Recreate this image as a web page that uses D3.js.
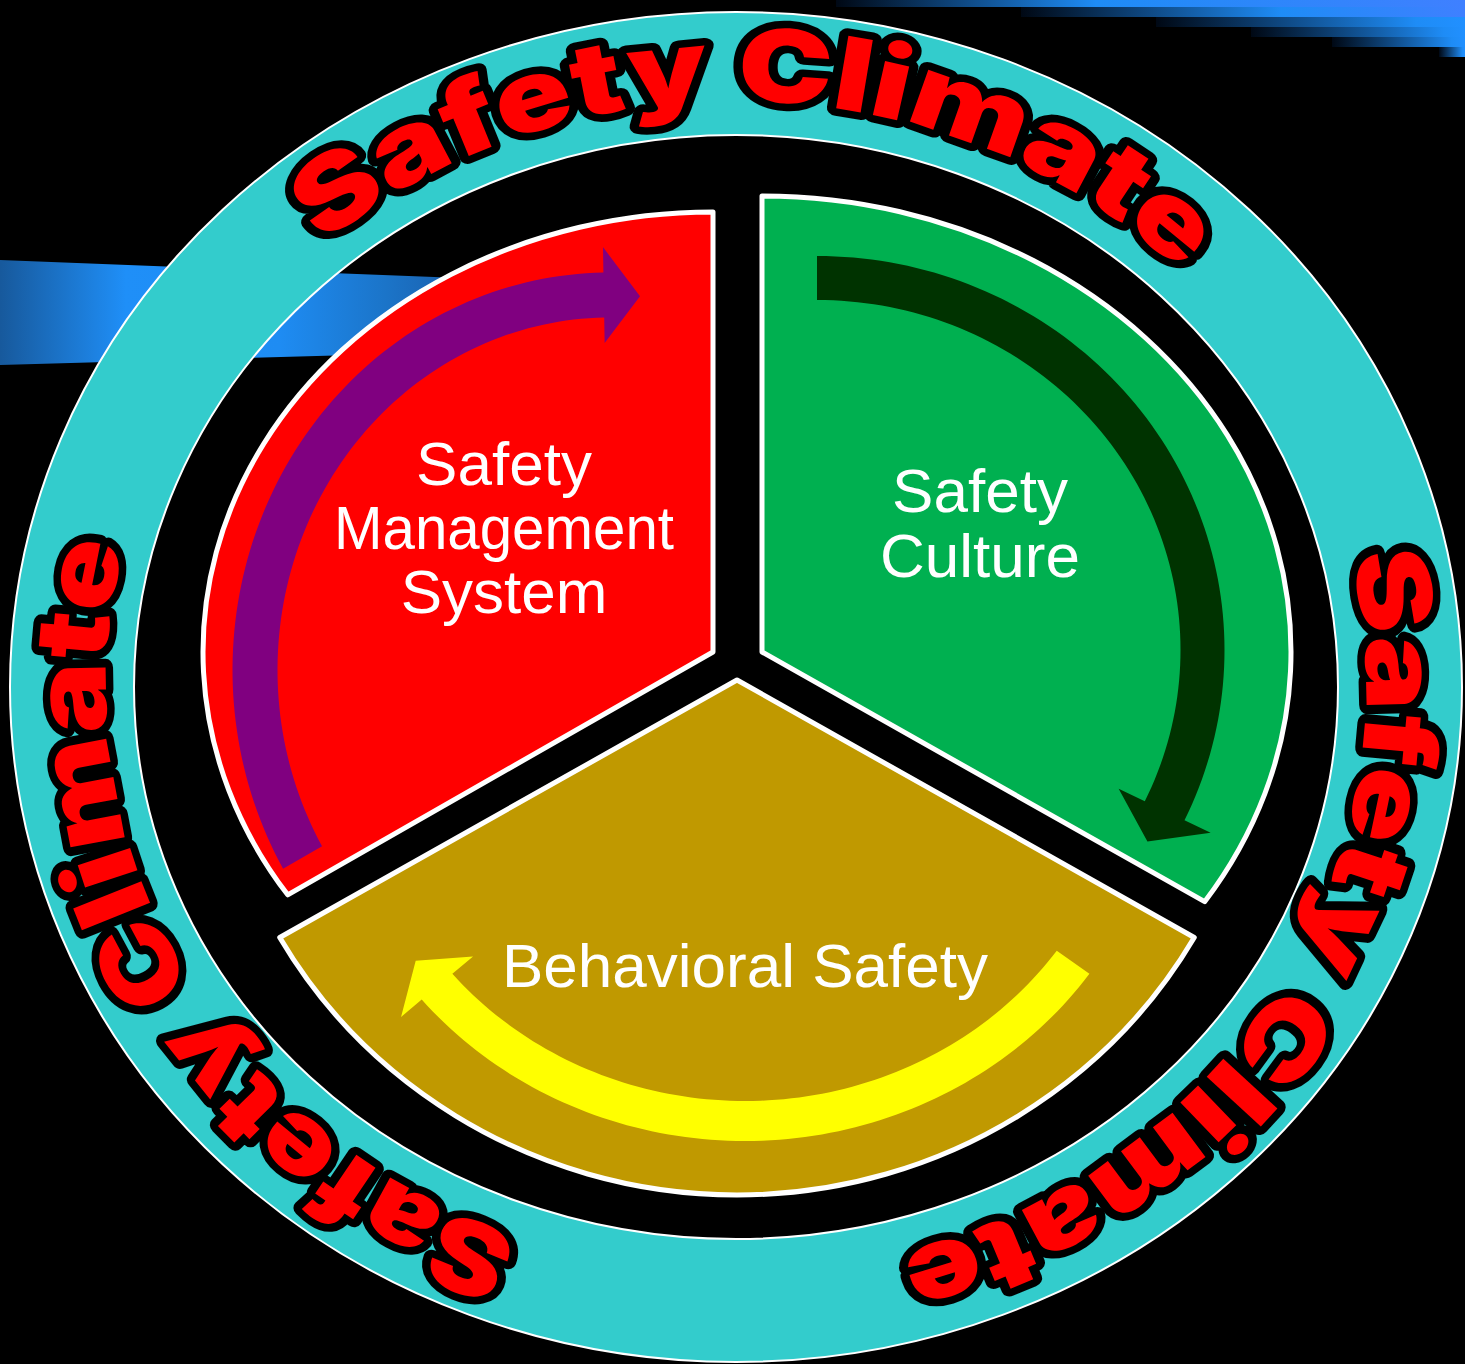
<!DOCTYPE html>
<html>
<head>
<meta charset="utf-8">
<script src="https://cdn.jsdelivr.net/npm/d3@7"></script>
<style>
  html, body { margin: 0; padding: 0; background: #000; overflow: hidden; }
</style>
</head>
<body>
<svg id="chart" width="1465" height="1364"></svg>
<script>
// content of the diagram
var sectorNames = ["Safety Management System", "Safety Culture", "Behavioral Safety"];
var sectorLines = [["Safety", "Management", "System"], ["Safety", "Culture"], ["Behavioral Safety"]];
var sectorShares = [1, 1, 1];
var ringWords = ["Safety", "Climate"];
var ringRepeats = 3;

// layout
var W = 1465, H = 1364;
var ring = { cx: 736, cy: 687, rxOut: 726, ryOut: 675, rxIn: 602, ryIn: 552, rxText: 630, ryText: 586 };
var ringTextShift = [2, 1, 2]; // degrees, per repeat
var ringTextHalf = [43, 44, 42];

var sectorGeo = [
    { x: 713, y: 652, rx: 510, ry: 440, nudge: [-3.5, 0], fill: "#ff0000" },
    { x: 762, y: 652, rx: 529, ry: 456, nudge: [0, 3.2], fill: "#00b050" },
    { x: 737, y: 680, rx: 528, ry: 515, nudge: [0, 0], fill: "#c09900" }
];

var arrowGeo = [
    { cx: 610, cy: 670, a: 355, b: 375, w: 45, t0: -120, t1: -1, t2: 4.85, head: 48, fill: "#800080" },
    { cx: 817, cy: 650, a: 385.5, b: 372, w: 44, t0: 0, t1: 115.6, t2: 121, head: 51, fill: "#003300" },
    { cx: 745, cy: 745, a: 402, b: 376, w: 40, t0: 125.3, t1: 230, t2: 235, head: 47, fill: "#ffff00" }
];

var labelGeo = [
    { x: 504, y: [485, 549, 613], fit: [null, 340, null] },
    { x: 980, y: [512, 577], fit: [null, null] },
    { x: 745, y: [987], fit: [null] }
];

// top right streaks: [start x, top y, bottom y]
var streakGeo = [[836, 0, 7], [1021, 7, 17], [1156, 17, 27], [1251, 27, 37], [1332, 37, 47], [1439, 47, 57]];

var svg = d3.select("#chart");
var defs = svg.append("defs");

// point on an ellipse, angle in degrees, 0 at top, clockwise
function ept(cx, cy, rx, ry, deg) {
    var t = deg * Math.PI / 180;
    return [cx + rx * Math.sin(t), cy - ry * Math.cos(t)];
}

function ellipsePath(cx, cy, rx, ry) {
    return "M" + (cx - rx) + "," + cy +
        "A" + rx + "," + ry + " 0 1 1 " + (cx + rx) + "," + cy +
        "A" + rx + "," + ry + " 0 1 1 " + (cx - rx) + "," + cy + "Z";
}

svg.append("rect").attr("width", W).attr("height", H).attr("fill", "#000");

// left blue bar behind the ring
var barGrad = defs.append("linearGradient").attr("id", "barGrad")
    .attr("gradientUnits", "userSpaceOnUse").attr("x1", 0).attr("x2", 450).attr("y1", 0).attr("y2", 0);
barGrad.selectAll("stop")
    .data([[0, "#17599c"], [0.28, "#1f8ff8"], [0.62, "#1e8cf3"], [0.86, "#1b74c8"], [1, "#1a62b0"]])
    .join("stop").attr("offset", d => d[0]).attr("stop-color", d => d[1]);
svg.append("path")
    .attr("d", "M0,260L460,278L460,352L0,365Z")
    .attr("fill", "url(#barGrad)");

// top right streaks
streakGeo.forEach(function(s, i) {
    var len = W - s[0];
    var g = defs.append("linearGradient").attr("id", "streak" + i)
        .attr("gradientUnits", "userSpaceOnUse")
        .attr("x1", s[0]).attr("x2", W).attr("y1", 0).attr("y2", 0);
    g.selectAll("stop")
        .data([[0, "#000814"], [Math.min(0.9, 260 / len), "#1e8cf6"], [1, i < 2 ? "#3f80ff" : "#2190ff"]])
        .join("stop").attr("offset", d => d[0]).attr("stop-color", d => d[1]);
    svg.append("rect")
        .attr("x", s[0]).attr("y", s[1])
        .attr("width", len).attr("height", s[2] - s[1])
        .attr("fill", "url(#streak" + i + ")");
});

// teal ring
svg.append("path")
    .attr("d", ellipsePath(ring.cx, ring.cy, ring.rxOut, ring.ryOut) + ellipsePath(ring.cx, ring.cy, ring.rxIn, ring.ryIn))
    .attr("fill", "#33cccc")
    .attr("fill-rule", "evenodd")
    .attr("stroke", "#fff")
    .attr("stroke-width", 2);

// three sectors
var pie = d3.pie().sort(null).startAngle(-2 * Math.PI / 3).endAngle(4 * Math.PI / 3);
var arcs = pie(sectorShares);

svg.append("g")
    .selectAll("path")
    .data(arcs)
    .join("path")
    .attr("d", function(d, i) {
        var g = sectorGeo[i];
        var a0 = d.startAngle * 180 / Math.PI + g.nudge[0];
        var a1 = d.endAngle * 180 / Math.PI + g.nudge[1];
        var p0 = ept(g.x, g.y, g.rx, g.ry, a0);
        var p1 = ept(g.x, g.y, g.rx, g.ry, a1);
        return "M" + g.x + "," + g.y + "L" + p0 + "A" + g.rx + "," + g.ry + " 0 0 1 " + p1 + "Z";
    })
    .attr("fill", (d, i) => sectorGeo[i].fill)
    .attr("stroke", "#fff")
    .attr("stroke-width", 5)
    .attr("stroke-linejoin", "round");

// curved arrows
function arrowPoints(g) {
    var pts = [], n = 90, half = g.w / 2, i, t;
    for (i = 0; i <= n; i++) {
        t = g.t0 + (g.t1 - g.t0) * i / n;
        pts.push(ept(g.cx, g.cy, g.a + half, g.b + half, t));
    }
    pts.push(ept(g.cx, g.cy, g.a + g.head, g.b + g.head, g.t1));
    pts.push(ept(g.cx, g.cy, g.a, g.b, g.t2));
    pts.push(ept(g.cx, g.cy, g.a - g.head, g.b - g.head, g.t1));
    for (i = n; i >= 0; i--) {
        t = g.t0 + (g.t1 - g.t0) * i / n;
        pts.push(ept(g.cx, g.cy, g.a - half, g.b - half, t));
    }
    return pts;
}

var line = d3.line().curve(d3.curveLinearClosed);
svg.append("g")
    .selectAll("path")
    .data(arrowGeo)
    .join("path")
    .attr("d", d => line(arrowPoints(d)))
    .attr("fill", d => d.fill);

// sector labels
var labels = svg.append("g")
    .attr("font-family", "'Liberation Sans', Arial, sans-serif")
    .attr("font-size", 62)
    .attr("fill", "#fff")
    .attr("text-anchor", "middle");

sectorLines.forEach(function(lines, i) {
    var g = labelGeo[i];
    var t = labels.append("text").attr("aria-label", sectorNames[i]);
    lines.forEach(function(s, j) {
        var ts = t.append("tspan").attr("x", g.x).attr("y", g.y[j]).text(s);
        if (g.fit[j]) ts.attr("textLength", g.fit[j]).attr("lengthAdjust", "spacingAndGlyphs");
    });
});

// ring text, repeated around the ring
function arcLength(rx, ry, a0, a1) {
    var len = 0, prev = ept(0, 0, rx, ry, a0), n = 400;
    for (var i = 1; i <= n; i++) {
        var p = ept(0, 0, rx, ry, a0 + (a1 - a0) * i / n);
        len += Math.hypot(p[0] - prev[0], p[1] - prev[1]);
        prev = p;
    }
    return len;
}

var ringText = svg.append("g")
    .attr("font-family", "Inter, 'Liberation Sans', Arial, sans-serif")
    .attr("font-size", 101)
    .attr("font-weight", 900)
    .attr("fill", "#ff0000")
    .attr("stroke", "#000")
    .attr("stroke-width", 15)
    .attr("stroke-linejoin", "round")
    .attr("paint-order", "stroke");

// natural widths of the words and of the gap between them
var probe = ringText.append("text").attr("opacity", 0);
var wordW = ringWords.map(w => probe.text(w).node().getComputedTextLength());
var fullW = probe.text(ringWords.join(" ")).node().getComputedTextLength();
probe.remove();
var gapW = fullW - d3.sum(wordW);

d3.range(ringRepeats).forEach(function(k) {
    var mid = 360 / ringRepeats * k + ringTextShift[k], half = ringTextHalf[k];
    var p0 = ept(ring.cx, ring.cy, ring.rxText, ring.ryText, mid - half);
    var p1 = ept(ring.cx, ring.cy, ring.rxText, ring.ryText, mid + half);
    defs.append("path")
        .attr("id", "ringPath" + k)
        .attr("d", "M" + p0 + "A" + ring.rxText + "," + ring.ryText + " 0 0 1 " + p1);
    var f = arcLength(ring.rxText, ring.ryText, mid - half, mid + half) / fullW;
    var offset = 0;
    ringWords.forEach(function(w, j) {
        ringText.append("text")
            .append("textPath")
            .attr("href", "#ringPath" + k)
            .attr("startOffset", offset)
            .attr("textLength", wordW[j] * f)
            .attr("lengthAdjust", "spacingAndGlyphs")
            .text(w);
        offset += (wordW[j] + gapW) * f;
    });
});
</script>
</body>
</html>
